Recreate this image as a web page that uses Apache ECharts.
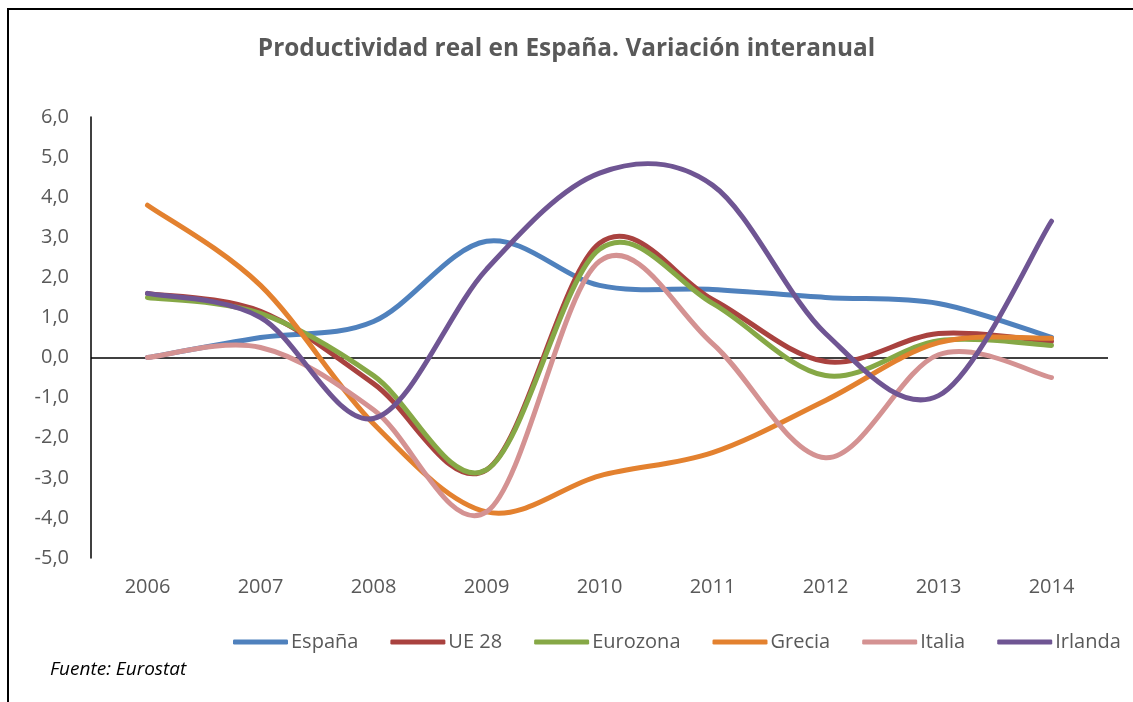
<!DOCTYPE html>
<html>
<head>
<meta charset="utf-8">
<script src="https://cdn.jsdelivr.net/npm/echarts@6/dist/echarts.min.js"></script>
<style>
  html, body { margin: 0; padding: 0; background: #fff; }
  #frame {
    position: absolute; left: 7px; top: 8px; width: 1126px; height: 694px;
    border-top: 2px solid #000; border-left: 2px solid #000;
    box-sizing: border-box;
  }
  #main { position: absolute; left: 0; top: 0; width: 1133px; height: 702px; }
</style>
</head>
<body>
<div id="frame"></div>
<div id="main"></div>
<script>
// años
var years = ["2006", "2007", "2008", "2009", "2010", "2011", "2012", "2013", "2014"];
// series (variación interanual, %)
var espana   = [0.0, 0.5, 0.9, 2.9, 1.8, 1.7, 1.5, 1.35, 0.5];
var ue28     = [1.6, 1.15, -0.65, -2.8, 2.85, 1.45, -0.1, 0.6, 0.4];
var eurozona = [1.5, 1.1, -0.45, -2.8, 2.7, 1.35, -0.45, 0.42, 0.3];
var grecia   = [3.8, 1.8, -1.65, -3.85, -2.95, -2.37, -1.07, 0.37, 0.48];
var italia   = [0.0, 0.25, -1.3, -3.85, 2.4, 0.35, -2.5, 0.07, -0.5];
var irlanda  = [1.6, 1.0, -1.52, 2.2, 4.6, 4.3, 0.6, -0.95, 3.4];

var names  = ["España", "UE 28", "Eurozona", "Grecia", "Italia", "Irlanda"];
var data   = [espana, ue28, eurozona, grecia, italia, irlanda];
var colors = ["#4f81bd", "#a9423f", "#86a846", "#e3812f", "#d49292", "#6f5593"];

var font = "'Open Sans', 'Liberation Sans', sans-serif";

var myChart = echarts.init(document.getElementById("main"));

// curva suavizada tipo Excel (Catmull-Rom) a partir de las coordenadas del eje
function smoothPath(pts) {
  var d = "M" + pts[0][0] + "," + pts[0][1];
  for (var i = 0; i < pts.length - 1; i++) {
    var p0 = pts[i - 1] || pts[i];
    var p1 = pts[i];
    var p2 = pts[i + 1];
    var p3 = pts[i + 2] || pts[i + 1];
    var c1x = p1[0] + (p2[0] - p0[0]) / 6;
    var c1y = p1[1] + (p2[1] - p0[1]) / 6;
    var c2x = p2[0] - (p3[0] - p1[0]) / 6;
    var c2y = p2[1] - (p3[1] - p1[1]) / 6;
    d += " C" + c1x + "," + c1y + " " + c2x + "," + c2y + " " + p2[0] + "," + p2[1];
  }
  return d;
}

var series = names.map(function (name, i) {
  return {
    name: name,
    type: "custom",
    data: data[i].map(function (v, k) { return [k, v]; }),
    itemStyle: { color: colors[i] },
    z: 2 + i,
    renderItem: function (params, api) {
      if (params.dataIndex !== 0) return;
      var vals = data[params.seriesIndex];
      var pts = vals.map(function (v, k) { return api.coord([k, v]); });
      return {
        type: "path",
        shape: { pathData: smoothPath(pts) },
        style: { fill: null, stroke: colors[params.seriesIndex], lineWidth: 5, lineCap: "round", lineJoin: "round" }
      };
    }
  };
});

var zeroLine = [];
for (var t = -5; t <= 6; t++) zeroLine.push(t === 0 ? "#000" : "rgba(0,0,0,0)");

var option = {
  animation: false,
  color: colors,
  title: [
    {
      text: "Productividad real en España. Variación interanual",
      left: "center",
      top: 32,
      textStyle: { fontFamily: font, fontSize: 24.4, fontWeight: "bold", color: "#595959" }
    },
    {
      text: "Fuente: Eurostat",
      left: 45,
      top: 655,
      textStyle: { fontFamily: font, fontSize: 19, fontWeight: "normal", fontStyle: "italic", color: "#000" }
    }
  ],
  legend: {
    data: names,
    left: 233,
    top: 632,
    width: 898,
    padding: 0,
    icon: "roundRect",
    itemWidth: 55,
    itemHeight: 5,
    itemGap: 32,
    textStyle: { fontFamily: font, fontSize: 20, color: "#595959", padding: [0, 0, 0, -2] }
  },
  grid: { left: 91, right: 25, top: 117, bottom: 144, containLabel: false },
  xAxis: {
    type: "category",
    data: years,
    boundaryGap: true,
    axisLine: { show: false },
    axisTick: { show: false },
    axisLabel: { fontFamily: font, fontSize: 20, color: "#595959", margin: 19 }
  },
  yAxis: {
    type: "value",
    min: -5,
    max: 6,
    interval: 1,
    axisLine: { show: true, lineStyle: { color: "#000", width: 1.5 } },
    axisTick: { show: false },
    splitLine: { show: true, lineStyle: { color: zeroLine, width: 1.5 } },
    axisLabel: {
      fontFamily: font, fontSize: 20, color: "#595959", margin: 22,
      formatter: function (v) { return v.toFixed(1).replace(".", ","); }
    }
  },
  series: series
};

myChart.setOption(option);
</script>
</body>
</html>
